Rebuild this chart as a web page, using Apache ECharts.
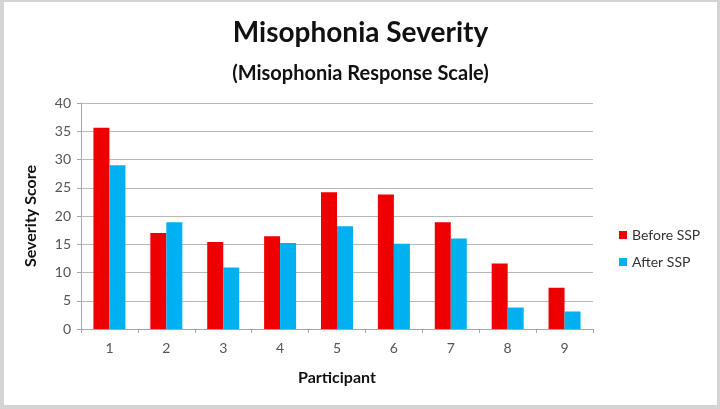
<!DOCTYPE html>
<html>
<head>
<meta charset="utf-8">
<script src="https://cdn.jsdelivr.net/npm/echarts@6/dist/echarts.min.js"></script>
<style>
  html, body { margin: 0; padding: 0; background: #d4d4d4; }
  #chart {
    position: absolute; left: 4px; top: 2px;
    width: 713px; height: 403px; background: #fff;
  }
</style>
</head>
<body>
<div id="chart"></div>
<script>
// 参与者编号与两组分值
var participants = ["1", "2", "3", "4", "5", "6", "7", "8", "9"];
var beforeSSP = [35.6, 17.0, 15.4, 16.4, 24.2, 23.8, 18.9, 11.6, 7.3];
var afterSSP = [29.0, 18.9, 10.9, 15.2, 18.2, 15.1, 16.0, 3.8, 3.1];

var myChart = echarts.init(document.getElementById("chart"));
var font = "Lato, 'Open Sans', sans-serif";

var option = {
  animation: false,
  textStyle: { fontFamily: font },
  title: [
    {
      text: "Misophonia Severity",
      left: "center",
      top: 12,
      textStyle: { fontSize: 28, fontWeight: "bold", color: "#111", fontFamily: font },
    },
    {
      text: "(Misophonia Response Scale)",
      left: "center",
      top: 57,
      textStyle: { fontSize: 20, fontWeight: "bold", color: "#111", fontFamily: font },
    },
  ],
  legend: {
    orient: "vertical",
    left: 610,
    top: 221,
    itemWidth: 8,
    itemHeight: 8,
    itemGap: 13,
    icon: "rect",
    textStyle: { fontSize: 14, color: "#333", fontFamily: font },
    data: ["Before SSP", "After SSP"],
  },
  grid: { left: 77, right: 124, top: 101, bottom: 76 },
  xAxis: {
    type: "category",
    data: participants,
    name: "Participant",
    nameLocation: "middle",
    nameGap: 41,
    nameTextStyle: { fontSize: 16, fontWeight: "bold", color: "#111" },
    axisLine: { lineStyle: { color: "#a6a6a6" } },
    axisTick: { show: true, length: 4, lineStyle: { color: "#a6a6a6" } },
    axisLabel: { fontSize: 14, color: "#555", margin: 12 },
  },
  yAxis: {
    type: "value",
    min: 0,
    max: 40,
    interval: 5,
    name: "Severity Score",
    nameLocation: "middle",
    nameGap: 42,
    nameTextStyle: { fontSize: 16, fontWeight: "bold", color: "#111" },
    axisLine: { show: true, lineStyle: { color: "#a6a6a6" } },
    axisTick: { show: true, length: 4, lineStyle: { color: "#a6a6a6" } },
    axisLabel: { fontSize: 14, color: "#555", margin: 10 },
    splitLine: { lineStyle: { color: "#b8b8b8" } },
  },
  series: [
    {
      name: "Before SSP",
      type: "bar",
      data: beforeSSP,
      barWidth: 16,
      barGap: "0%",
      itemStyle: { color: "#ee0000" },
    },
    {
      name: "After SSP",
      type: "bar",
      data: afterSSP,
      barWidth: 16,
      itemStyle: { color: "#00b0f0" },
    },
  ],
};

myChart.setOption(option);
</script>
</body>
</html>
